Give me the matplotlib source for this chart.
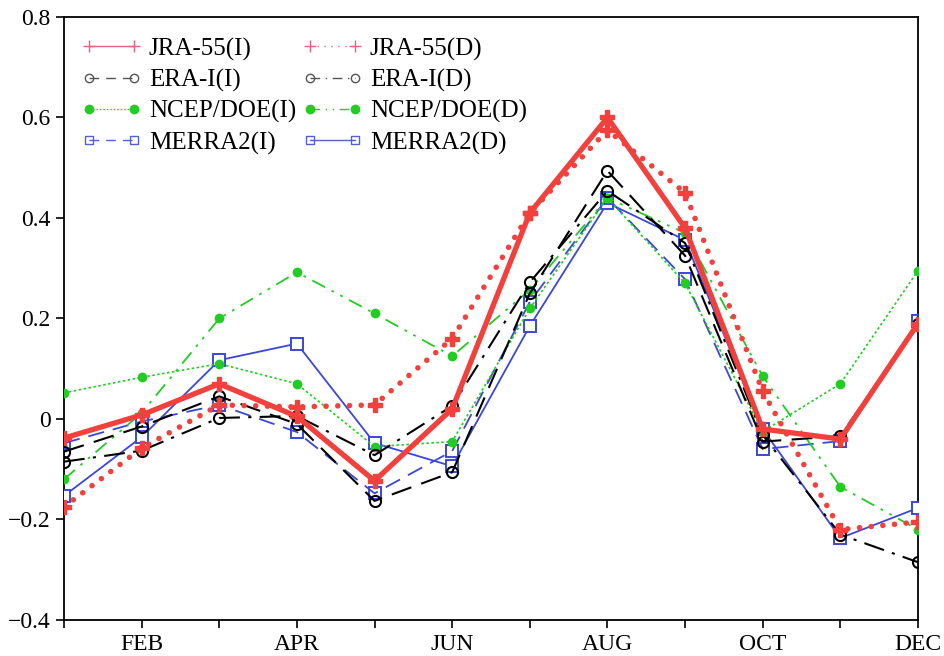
import matplotlib
matplotlib.use("Agg")
import matplotlib.pyplot as plt
from matplotlib.lines import Line2D
from matplotlib.ticker import FuncFormatter, MultipleLocator
import numpy as np

plt.rcParams["font.family"] = ["Liberation Serif", "DejaVu Serif"]

months = np.arange(1, 13)
month_labels = ["FEB", "APR", "JUN", "AUG", "OCT", "DEC"]

jra_i = [-0.038, 0.008, 0.07, 0.005, -0.123, 0.02, 0.41, 0.60, 0.38, -0.02, -0.04, 0.19]
jra_d = [-0.175, -0.058, 0.028, 0.024, 0.028, 0.16, 0.41, 0.575, 0.45, 0.055, -0.22, -0.205]
era_i = [-0.065, -0.015, 0.045, -0.01, -0.163, -0.106, 0.25, 0.494, 0.325, -0.045, -0.034, 0.19]
era_d = [-0.085, -0.063, 0.002, 0.006, -0.072, 0.026, 0.272, 0.454, 0.35, -0.032, -0.23, -0.285]
ncep_i = [0.052, 0.083, 0.11, 0.07, -0.055, -0.045, 0.22, 0.44, 0.27, -0.025, 0.07, 0.295]
ncep_d = [-0.12, 0.012, 0.20, 0.292, 0.21, 0.125, 0.257, 0.44, 0.37, 0.085, -0.135, -0.22]
merra_i = [-0.048, -0.005, 0.028, -0.026, -0.148, -0.064, 0.233, 0.44, 0.278, -0.06, -0.044, 0.195]
merra_d = [-0.153, -0.036, 0.117, 0.15, -0.048, -0.094, 0.185, 0.43, 0.356, -0.02, -0.237, -0.177]

RED = "#f2403c"
BLACK = "#000000"
GREEN = "#22cc22"
BLUE = "#3a46dc"

fig = plt.figure(figsize=(9.45, 6.56), dpi=100)
ax = fig.add_axes([0.0677, 0.0549, 0.9037, 0.9192])

ax.plot(months, merra_d, color=BLUE, lw=1.3, ls="-", marker="s", ms=8,
        mfc="white", mec=BLUE, mew=1.4, zorder=3)
ax.plot(months, merra_i, color=BLUE, lw=1.3, ls=(0, (9, 5)), marker="s", ms=8,
        mfc="none", mec=BLUE, mew=1.4, zorder=3)
ax.plot(months, ncep_i, color=GREEN, lw=1.2, ls=(0, (1.5, 1.5)), marker="o", ms=6,
        mfc=GREEN, mec=GREEN, zorder=3)
ax.plot(months, ncep_d, color=GREEN, lw=1.3, ls=(0, (8, 4, 1.5, 4, 1.5, 4)), marker="o", ms=6,
        mfc=GREEN, mec=GREEN, zorder=3)
ax.plot(months, era_i, color=BLACK, lw=1.5, ls=(0, (10, 5)), marker="o", ms=8,
        mfc="none", mec=BLACK, mew=1.5, zorder=4)
ax.plot(months, era_d, color=BLACK, lw=1.5, ls=(0, (10, 4, 1.5, 4)), marker="o", ms=8,
        mfc="none", mec=BLACK, mew=1.5, zorder=4)
ax.plot(months, jra_d, color=RED, lw=4, ls=(0, (0.01, 2.1)), dash_capstyle="round",
        marker="P", ms=10, mfc=RED, mec=RED, zorder=5)
ax.plot(months, jra_i, color=RED, lw=3.8, ls="-", marker="P", ms=10,
        mfc=RED, mec=RED, zorder=5)

ax.set_xlim(1, 12)
ax.set_ylim(-0.4, 0.8)
ax.set_xticks(months, minor=True)
ax.set_xticks(months[1::2])
ax.set_xticklabels(month_labels)
ax.yaxis.set_major_locator(MultipleLocator(0.2))


def fmt(v, pos):
    if abs(v) < 1e-9:
        return "0"
    return f"{v:.1f}".replace("-", "\u2212")


ax.yaxis.set_major_formatter(FuncFormatter(fmt))
ax.tick_params(axis="both", which="both", direction="out", length=6, width=1.2,
               labelsize=17, colors="black")
ax.tick_params(axis="x", pad=4)
for s in ax.spines.values():
    s.set_linewidth(1.3)

handles = [
    Line2D([], [], color="#e86080", lw=1, ls="-", marker="+", ms=8, mew=1),
    Line2D([], [], color="#e86080", lw=1, ls=(0, (1, 4)), marker="+", ms=8, mew=1),
    Line2D([], [], color="#555555", lw=1, ls=(0, (7, 5)), marker="o", ms=6, mfc="none"),
    Line2D([], [], color="#555555", lw=1, ls=(0, (7, 4, 1, 4)), marker="o", ms=6, mfc="none"),
    Line2D([], [], color=GREEN, lw=1, ls=(0, (1, 1.5)), marker="o", ms=6),
    Line2D([], [], color=GREEN, lw=1, ls=(0, (7, 4, 1, 4, 1, 4)), marker="o", ms=6),
    Line2D([], [], color="#5560cc", lw=1, ls=(0, (7, 5)), marker="s", ms=6, mfc="none"),
    Line2D([], [], color="#5560cc", lw=1, ls="-", marker="s", ms=6, mfc="none"),
]
labels = ["JRA-55(I)", "JRA-55(D)", "ERA-I(I)", "ERA-I(D)",
          "NCEP/DOE(I)", "NCEP/DOE(D)", "MERRA2(I)", "MERRA2(D)"]
order = [0, 2, 4, 6, 1, 3, 5, 7]
leg = ax.legend([handles[i] for i in order], [labels[i] for i in order],
                ncol=2, loc="upper left", bbox_to_anchor=(0.0, 0.995),
                frameon=False, fontsize=18, handlelength=2.4, handletextpad=0.3,
                columnspacing=0.25, labelspacing=0.33, borderaxespad=0.3, numpoints=2)

fig.savefig("out.png", dpi=100)
